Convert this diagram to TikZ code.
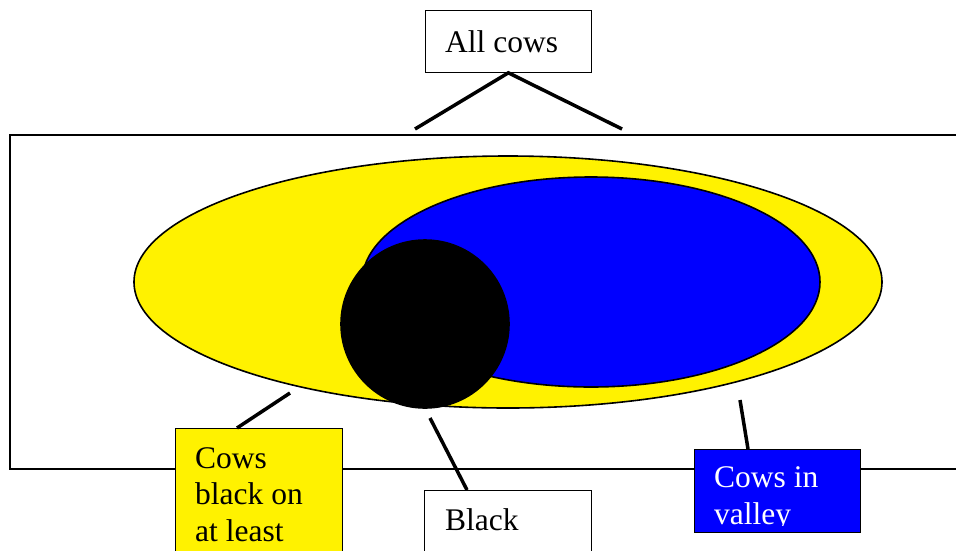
\documentclass[tikz,border=0pt]{standalone}
\usepackage{fontspec}
\setmainfont{Liberation Serif}
\begin{document}
\begin{tikzpicture}[x=1pt,y=-1pt,
  lbl/.style={anchor=base west,inner sep=0pt,font=\fontsize{31.5}{36.5}\selectfont,align=left},
  box/.style={draw=black,line width=0.8pt,anchor=north west,inner sep=0pt},
  conn/.style={line width=3.5pt},
  shapeb/.style={draw=black,line width=1.6pt}]
\useasboundingbox (0,0) rectangle (956,550);
% outer frame
\draw[line width=2.2pt] (975,135) -- (10,135) -- (10,469) -- (975,469);
% sets
\draw[shapeb,fill=yellow] (508,282) ellipse [x radius=374, y radius=126];
\draw[shapeb,fill=blue] (591,282) ellipse [x radius=229, y radius=105];
\draw[shapeb,fill=black] (425,324) circle [radius=84];
% label boxes
\node[box,minimum width=166,minimum height=62] (allbox) at (425,10) {};
\node[lbl] (alltxt) at (445,52) {All cows};
\node[box,fill=yellow,minimum width=167,minimum height=140] (ybox) at (175,428) {};
\node[lbl] (ytxt) at (195,541) {Cows\\black on\\at least};
\node[box,minimum width=167,minimum height=80] (bbox) at (424,490) {};
\node[lbl] (btxt) at (445,530) {Black};
\node[box,fill=blue,minimum width=166,minimum height=83] (vbox) at (694,449) {};
\begin{scope}
\clip (694,449) rectangle (860,525);
\node[lbl,text=white] (vtxt) at (714,524) {Cows in\\valley};
\end{scope}
% connectors
\coordinate (a1) at (415,129);
\coordinate (a2) at (622,129);
\coordinate (y1) at (290,393);
\coordinate (b1) at (430,418);
\coordinate (v1) at (740,400);
\draw[conn] (a1) -- (allbox.south) -- (a2);
\draw[conn] (y1) -- ([xshift=62pt]ybox.north west);
\draw[conn] (b1) -- ([xshift=43pt]bbox.north west);
\draw[conn] (v1) -- ([xshift=54pt]vbox.north west);
\end{tikzpicture}
\end{document}
